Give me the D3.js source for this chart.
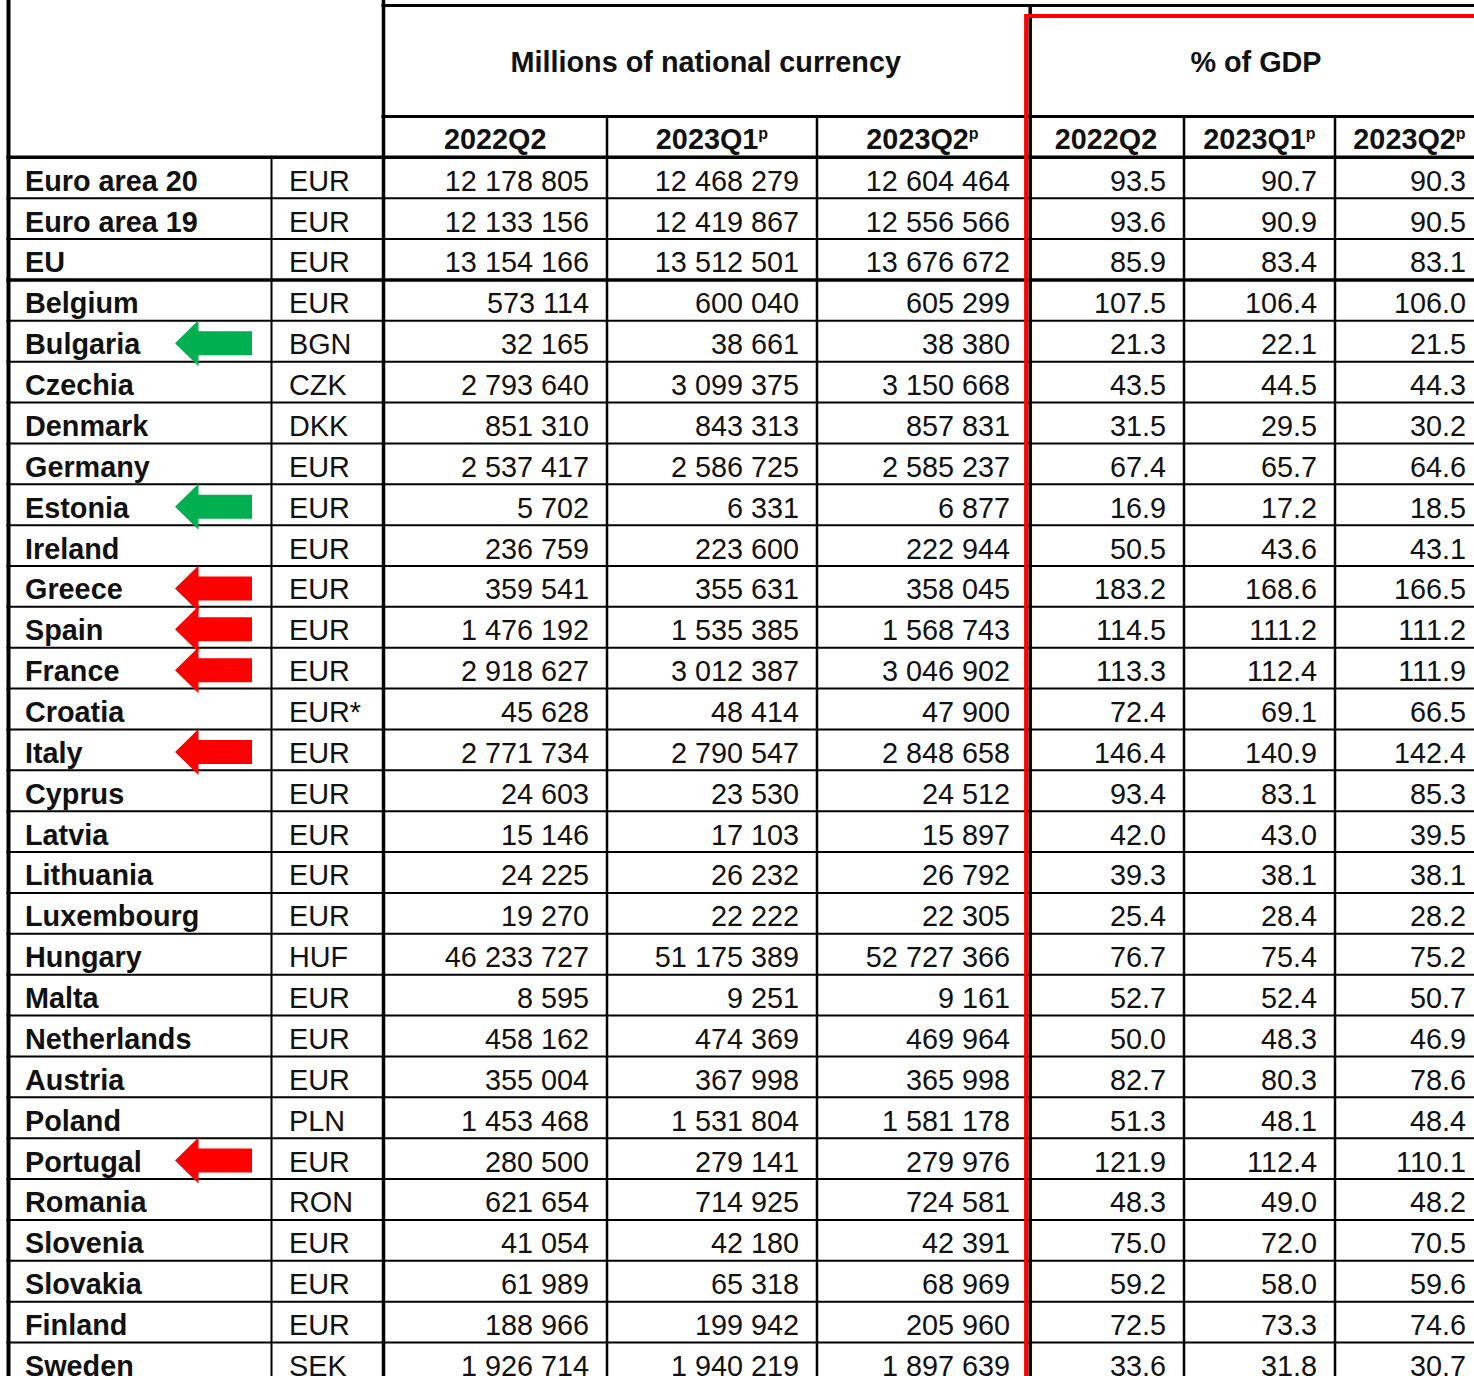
<!DOCTYPE html>
<html>
<head>
<meta charset="utf-8">
<script src="https://cdn.jsdelivr.net/npm/d3@7"></script>
<style>
    body { margin: 0; background: #fff; overflow: hidden; }
    svg { display: block; font-family: "Liberation Sans", Arial, sans-serif; }
    .cell { font-size: 28.8px; fill: #111; }
    .bold { font-weight: bold; }
</style>
</head>
<body>
<svg id="table"></svg>
<script>
// Government debt table, values as published
const countries = ["Euro area 20", "Euro area 19", "EU", "Belgium", "Bulgaria", "Czechia", "Denmark", "Germany",
    "Estonia", "Ireland", "Greece", "Spain", "France", "Croatia", "Italy", "Cyprus", "Latvia", "Lithuania",
    "Luxembourg", "Hungary", "Malta", "Netherlands", "Austria", "Poland", "Portugal", "Romania", "Slovenia",
    "Slovakia", "Finland", "Sweden"];
const currencies = ["EUR", "EUR", "EUR", "EUR", "BGN", "CZK", "DKK", "EUR", "EUR", "EUR", "EUR", "EUR", "EUR",
    "EUR*", "EUR", "EUR", "EUR", "EUR", "EUR", "HUF", "EUR", "EUR", "EUR", "PLN", "EUR", "RON", "EUR", "EUR",
    "EUR", "SEK"];
const debt2022Q2 = [12178805, 12133156, 13154166, 573114, 32165, 2793640, 851310, 2537417, 5702, 236759, 359541,
    1476192, 2918627, 45628, 2771734, 24603, 15146, 24225, 19270, 46233727, 8595, 458162, 355004, 1453468,
    280500, 621654, 41054, 61989, 188966, 1926714];
const debt2023Q1 = [12468279, 12419867, 13512501, 600040, 38661, 3099375, 843313, 2586725, 6331, 223600, 355631,
    1535385, 3012387, 48414, 2790547, 23530, 17103, 26232, 22222, 51175389, 9251, 474369, 367998, 1531804,
    279141, 714925, 42180, 65318, 199942, 1940219];
const debt2023Q2 = [12604464, 12556566, 13676672, 605299, 38380, 3150668, 857831, 2585237, 6877, 222944, 358045,
    1568743, 3046902, 47900, 2848658, 24512, 15897, 26792, 22305, 52727366, 9161, 469964, 365998, 1581178,
    279976, 724581, 42391, 68969, 205960, 1897639];
const gdp2022Q2 = [93.5, 93.6, 85.9, 107.5, 21.3, 43.5, 31.5, 67.4, 16.9, 50.5, 183.2, 114.5, 113.3, 72.4, 146.4,
    93.4, 42.0, 39.3, 25.4, 76.7, 52.7, 50.0, 82.7, 51.3, 121.9, 48.3, 75.0, 59.2, 72.5, 33.6];
const gdp2023Q1 = [90.7, 90.9, 83.4, 106.4, 22.1, 44.5, 29.5, 65.7, 17.2, 43.6, 168.6, 111.2, 112.4, 69.1, 140.9,
    83.1, 43.0, 38.1, 28.4, 75.4, 52.4, 48.3, 80.3, 48.1, 112.4, 49.0, 72.0, 58.0, 73.3, 31.8];
const gdp2023Q2 = [90.3, 90.5, 83.1, 106.0, 21.5, 44.3, 30.2, 64.6, 18.5, 43.1, 166.5, 111.2, 111.9, 66.5, 142.4,
    85.3, 39.5, 38.1, 28.2, 75.2, 50.7, 46.9, 78.6, 48.4, 110.1, 48.2, 70.5, 59.6, 74.6, 30.7];
const periods = ["2022Q2", "2023Q1", "2023Q2"];
const provisional = [false, true, true];
const groupTitles = ["Millions of national currency", "% of GDP"];
const aggregates = ["Euro area 20", "Euro area 19", "EU"];
const greenArrows = ["Bulgaria", "Estonia"];
const redArrows = ["Greece", "Spain", "France", "Italy", "Portugal"];

const millionsFormat = d3.formatLocale({ decimal: ".", thousands: " ", grouping: [3], currency: ["", ""] }).format(",d");
const percentFormat = d3.format(".1f");

class DebtTable {

    constructor(_config, _data) {
        this.config = {
            parentElement: _config.parentElement,
            containerWidth: _config.containerWidth || 1474,
            containerHeight: _config.containerHeight || 1376,
            // column edges: country | currency | 3 x millions | 3 x % of GDP
            colEdges: _config.colEdges,
            topLine: 5.5,
            groupLine: 116.5,
            headerBottom: 157.3,
            rowHeight: 40.87,
            cellPadding: 18,
        };
        this.data = _data;
        this.initVis();
    }

    initVis() {
        const c = this.config;

        this.svg = d3.select(c.parentElement)
            .attr("width", c.containerWidth)
            .attr("height", c.containerHeight);

        this.yScale = d3.scaleBand()
            .domain(this.data.map((d) => d.country))
            .range([c.headerBottom, c.headerBottom + this.data.length * c.rowHeight]);

        this.bottom = c.headerBottom + this.data.length * c.rowHeight + 10;
        this.right = c.colEdges[c.colEdges.length - 1];

        this.gridGroup = this.svg.append("g").attr("class", "grid");
        this.textGroup = this.svg.append("g").attr("class", "texts");
        this.markGroup = this.svg.append("g").attr("class", "marks");
    }

    updateVis() {
        const c = this.config;
        const e = c.colEdges;

        // horizontal rules
        this.hLines = [
            { y: c.topLine, x1: e[2], x2: this.right, w: 3 },
            { y: c.groupLine, x1: e[2], x2: this.right, w: 3 },
            { y: c.headerBottom, x1: e[0], x2: this.right, w: 3.5 },
        ].concat(this.data.map((d) => ({
            y: this.yScale(d.country) + this.yScale.bandwidth(),
            x1: e[0], x2: this.right,
            w: d.country === aggregates[aggregates.length - 1] ? 3.5 : 2,
        })));

        // vertical rules
        this.vLines = [
            { x: e[0], y1: 0, w: 4 },
            { x: e[1], y1: c.headerBottom, w: 2 },
            { x: e[2], y1: 0, w: 3.5 },
            { x: e[3], y1: c.groupLine, w: 2.5 },
            { x: e[4], y1: c.groupLine, w: 2.5 },
            { x: e[5] + 2.2, y1: c.topLine, w: 3.5 },
            { x: e[6], y1: c.groupLine, w: 2.5 },
            { x: e[7], y1: c.groupLine, w: 2.5 },
        ];

        this.groupHeads = groupTitles.map((t, i) => ({
            text: t, x: i === 0 ? (e[2] + e[5]) / 2 : (e[5] + this.right) / 2,
        }));

        this.periodHeads = d3.range(6).map((i) => ({
            text: periods[i % 3], p: provisional[i % 3], x: (e[i + 2] + e[i + 3]) / 2,
        }));

        this.cells = this.data.flatMap((d) => d.values.map((v, j) => ({
            country: d.country,
            text: j < 3 ? millionsFormat(v) : percentFormat(v),
            x: e[j + 3] - c.cellPadding,
        })));

        this.arrows = greenArrows.map((k) => ({ country: k, color: "#00b050" }))
            .concat(redArrows.map((k) => ({ country: k, color: "#ff0000" })));

        this.renderVis();
    }

    renderVis() {
        const c = this.config;
        const e = c.colEdges;
        const y = this.yScale;
        const baseline = (d) => y(d) + 33.4;

        this.gridGroup.selectAll(".hline")
            .data(this.hLines)
            .join("line")
            .attr("class", "hline")
            .attr("x1", (d) => d.x1 - 2)
            .attr("x2", (d) => d.x2)
            .attr("y1", (d) => d.y)
            .attr("y2", (d) => d.y)
            .attr("stroke", "#000")
            .attr("stroke-width", (d) => d.w);

        this.gridGroup.selectAll(".vline")
            .data(this.vLines)
            .join("line")
            .attr("class", "vline")
            .attr("x1", (d) => d.x)
            .attr("x2", (d) => d.x)
            .attr("y1", (d) => d.y1 - 1.5)
            .attr("y2", this.bottom)
            .attr("stroke", "#000")
            .attr("stroke-width", (d) => d.w);

        // red highlight frame round the % of GDP block, drawn tight against its left rule
        this.gridGroup.append("path")
            .attr("d", `M${e[5] - 1.8},${this.bottom} V16 H${this.right}`)
            .attr("fill", "none")
            .attr("stroke", "#ff0000")
            .attr("stroke-width", 4.2);

        this.textGroup.selectAll(".group-head")
            .data(this.groupHeads)
            .join("text")
            .attr("class", "group-head cell bold")
            .attr("x", (d) => d.x)
            .attr("y", 71.5)
            .attr("text-anchor", "middle")
            .text((d) => d.text);

        const heads = this.textGroup.selectAll(".period-head")
            .data(this.periodHeads)
            .join("text")
            .attr("class", "period-head cell bold")
            .attr("x", (d) => d.x)
            .attr("y", 149)
            .attr("text-anchor", "middle");
        heads.append("tspan").text((d) => d.text);
        heads.filter((d) => d.p).append("tspan")
            .attr("font-size", 16)
            .attr("dy", -10)
            .text("p");

        this.textGroup.selectAll(".name")
            .data(this.data)
            .join("text")
            .attr("class", "name cell bold")
            .attr("x", e[0] + 16.5)
            .attr("y", (d) => baseline(d.country))
            .text((d) => d.country);

        this.textGroup.selectAll(".currency")
            .data(this.data)
            .join("text")
            .attr("class", "currency cell")
            .attr("x", e[1] + 17.5)
            .attr("y", (d) => baseline(d.country))
            .text((d) => d.currency);

        this.textGroup.selectAll(".value")
            .data(this.cells)
            .join("text")
            .attr("class", "value cell")
            .attr("x", (d) => d.x)
            .attr("y", (d) => baseline(d.country))
            .attr("text-anchor", "end")
            .text((d) => d.text);

        // left-pointing arrows next to the highlighted countries
        this.markGroup.selectAll(".arrow")
            .data(this.arrows)
            .join("path")
            .attr("class", "arrow")
            .attr("transform", (d) => `translate(175, ${y(d.country) + y.bandwidth() / 2 + 2})`)
            .attr("d", "M0,0 L23.5,-23 L23.5,-12 L77,-12 L77,12 L23.5,12 L23.5,23 Z")
            .attr("fill", (d) => d.color);
    }
}

const rows = countries.map((country, i) => ({
    country,
    currency: currencies[i],
    values: [debt2022Q2[i], debt2023Q1[i], debt2023Q2[i], gdp2022Q2[i], gdp2023Q1[i], gdp2023Q2[i]],
}));

const table = new DebtTable({
    parentElement: "#table",
    colEdges: [8.5, 271.5, 383.5, 607, 817, 1028, 1184, 1335, 1484],
}, rows);
table.updateVis();
</script>
</body>
</html>
